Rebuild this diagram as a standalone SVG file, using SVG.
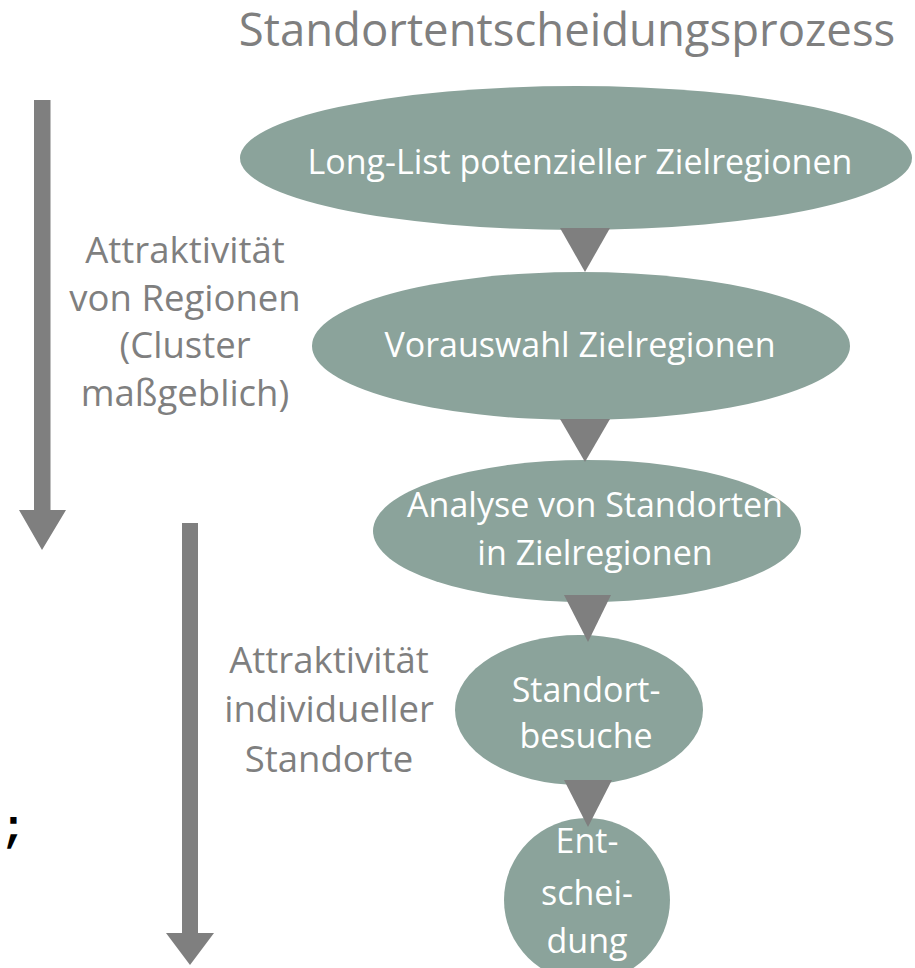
<svg xmlns="http://www.w3.org/2000/svg" width="915" height="968" viewBox="0 0 915 968">
<style>
.node{fill:#8BA39B}
.nt{font-family:"Open Sans","Noto Sans",sans-serif;font-size:34px;fill:#ffffff;text-anchor:middle}
.side{font-family:"Open Sans","Noto Sans",sans-serif;font-size:36.5px;fill:#7F7F7F;text-anchor:middle}
.title{font-family:"Open Sans","Noto Sans",sans-serif;font-size:45.5px;fill:#7F7F7F;text-anchor:middle}
.arr{fill:#7F7F7F}
</style>
<rect width="915" height="968" fill="#ffffff"/>
<text class="title" x="567" y="46">Standortentscheidungsprozess</text>
<g id="side-arrows">
<polygon class="arr" points="34,100 50.5,100 50.5,510 66,510 42,550 19,510 34,510"/>
<polygon class="arr" points="182,523 198,523 198,933 214,933 190,965 166,933 182,933"/>
</g>
<g id="label-regionen">
<text class="side" x="185" y="263">Attraktivität</text>
<text class="side" x="185" y="311">von Regionen</text>
<text class="side" x="185" y="358">(Cluster</text>
<text class="side" x="185" y="406">maßgeblich)</text>
</g>
<g id="label-standorte">
<text class="side" x="329" y="673">Attraktivität</text>
<text class="side" x="329" y="722">individueller</text>
<text class="side" x="329" y="772">Standorte</text>
</g>
<g id="n1">
<ellipse class="node" cx="576" cy="158" rx="336" ry="72"/>
<text class="nt" x="580" y="174">Long-List potenzieller Zielregionen</text>
</g>
<g id="n2">
<ellipse class="node" cx="581" cy="346" rx="269" ry="74"/>
<text class="nt" x="580" y="357">Vorauswahl Zielregionen</text>
</g>
<g id="n3">
<ellipse class="node" cx="587" cy="531" rx="214" ry="71"/>
<text class="nt" x="595" y="517">Analyse von Standorten</text>
<text class="nt" x="595" y="565">in Zielregionen</text>
</g>
<g id="n4">
<ellipse class="node" cx="579" cy="710" rx="124" ry="75"/>
<text class="nt" x="586" y="702">Standort-</text>
<text class="nt" x="586" y="748">besuche</text>
</g>
<g id="n5">
<ellipse class="node" cx="587" cy="900" rx="83" ry="82"/>
<text class="nt" x="587" y="853">Ent-</text>
<text class="nt" x="587" y="905">schei-</text>
<text class="nt" x="587" y="953">dung</text>
</g>
<g id="connectors">
<polygon class="arr" points="560,228 610,228 585,272"/>
<polygon class="arr" points="560,419 610,419 585,462"/>
<polygon class="arr" points="564,595 611,595 588,642"/>
<polygon class="arr" points="564,780 612,780 588,827"/>
</g>
<text x="0" y="841" font-family="Liberation Mono, monospace" font-weight="bold" font-size="44" fill="#000000">;</text>
</svg>
